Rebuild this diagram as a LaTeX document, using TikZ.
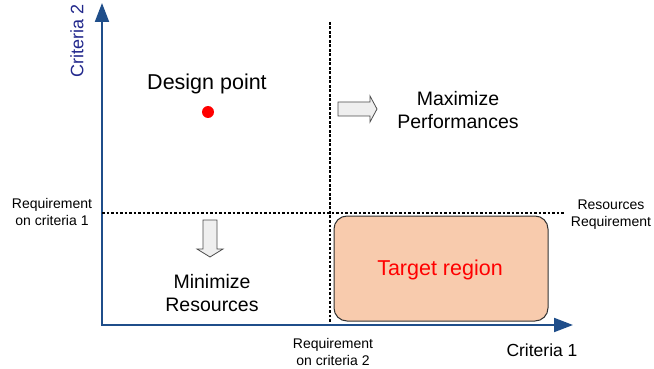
\documentclass[tikz,border=0pt]{standalone}
\usepackage{fontspec}
\setmainfont{Liberation Sans}
\usetikzlibrary{arrows.meta}
\definecolor{axisblue}{HTML}{1F4E8A}
\definecolor{labelnavy}{HTML}{22288C}
\definecolor{peach}{HTML}{F8CBAD}
\definecolor{hollowfill}{HTML}{EFEFEF}
\tikzset{
  axis/.style={draw=axisblue, line width=2pt, -{Triangle[length=19pt,width=14pt]}},
  dotline/.style={draw=black, line width=1.5pt, dash pattern=on 2.6pt off 1.9pt},
  bigtext/.style={font=\fontsize{19.5}{23}\selectfont, align=center, inner sep=0pt},
  smalltext/.style={font=\fontsize{14}{17}\selectfont, align=center, inner sep=0pt},
  hollow/.style={draw=black!70, line width=0.8pt, fill=hollowfill},
}
\begin{document}
\begin{tikzpicture}[x=1pt, y=-1pt]
  \useasboundingbox (0,0) rectangle (654,369);

  % axes
  \coordinate (origin) at (102,325);
  \coordinate (ytip) at (102,3);
  \coordinate (xtip) at (573,325);
  \draw[axis] (origin) -- (ytip);
  \draw[axis] ([xshift=-1pt]origin) -- (xtip);

  \node[font=\fontsize{18}{20}\selectfont, text=labelnavy, rotate=90, inner sep=0pt] (ylabel) at (77,41) {Criteria 2};
  \node[font=\fontsize{17.5}{20}\selectfont, inner sep=0pt] (xlabel) at (542,350) {Criteria 1};

  % requirement lines
  \coordinate (hstart) at (102,213);
  \coordinate (hend) at (565,213);
  \coordinate (vstart) at (330,22);
  \coordinate (vend) at (330,322);
  \draw[dotline] (hstart) -- (hend);
  \draw[dotline] (vstart) -- (vend);

  \node[smalltext] (req1) at (52,212) {Requirement\\on criteria 1};
  \node[smalltext] (req2) at (333,352) {Requirement\\on criteria 2};
  \node[smalltext] (resreq) at (611,215) {Resources\\Requirement};

  % target region
  \node[draw=black!80, line width=1pt, fill=peach, rounded corners=13pt,
        minimum width=214pt, minimum height=105pt, inner sep=0pt] (target) at (441,268.5) {};
  \node[font=\fontsize{21.5}{24}\selectfont, text=red, anchor=base, inner sep=0pt] (targettext) at (440,275) {Target region};

  % design point
  \node[font=\fontsize{21.5}{24}\selectfont, anchor=base, inner sep=0pt] (dplabel) at (207,89) {Design point};
  \node[circle, fill=red, minimum size=12pt, inner sep=0pt] (dp) at (208,112) {};

  % hollow arrows
  \draw[hollow] (338,102) -- (370,102) -- (370,96) -- (377,109) -- (370,122) -- (370,116) -- (338,116) -- cycle;
  \draw[hollow] (203,220) -- (217,220) -- (217,249) -- (223,249) -- (210,257) -- (197,249) -- (203,249) -- cycle;

  \node[bigtext] (maxperf) at (458,110) {Maximize\\Performances};
  \node[bigtext] (minres) at (212,293) {Minimize\\Resources};
\end{tikzpicture}
\end{document}
